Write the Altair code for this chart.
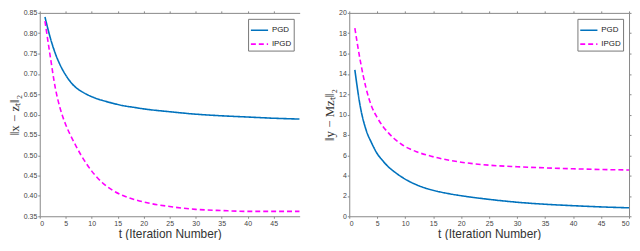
import altair as alt
import pandas as pd

# ---- data ----
series = ["PGD", "IPGD"]

t_left = [1, 2, 3, 4, 5, 6, 7, 8, 9, 10, 11, 12, 14, 16, 18, 20, 25, 30, 35, 40, 45, 50]
pgd_left = [0.840, 0.790, 0.750, 0.720, 0.697, 0.679, 0.666, 0.657, 0.650, 0.644, 0.639,
            0.635, 0.628, 0.622, 0.618, 0.614, 0.607, 0.601, 0.597, 0.594, 0.591, 0.589]
ipgd_left = [0.830, 0.745, 0.665, 0.612, 0.575, 0.547, 0.522, 0.499, 0.479, 0.461, 0.446,
             0.433, 0.414, 0.401, 0.392, 0.385, 0.374, 0.367, 0.364, 0.362, 0.362, 0.362]

t_right = [1, 2, 3, 4, 5, 6, 7, 8, 9, 10, 11, 12, 14, 16, 18, 20, 25, 30, 35, 40, 45, 50]
pgd_right = [14.4, 10.7, 8.5, 7.2, 6.15, 5.45, 4.85, 4.4, 4.0, 3.65, 3.35, 3.1, 2.7, 2.42,
             2.2, 2.02, 1.66, 1.38, 1.18, 1.04, 0.92, 0.83]
ipgd_right = [18.5, 15.2, 12.6, 10.8, 9.7, 8.85, 8.2, 7.65, 7.22, 6.85, 6.58, 6.35, 6.0,
              5.72, 5.5, 5.32, 5.02, 4.87, 4.76, 4.67, 4.6, 4.55]

left_xticks = [0, 5, 10, 15, 20, 25, 30, 35, 40, 45]
left_yticks = [0.35, 0.4, 0.45, 0.5, 0.55, 0.6, 0.65, 0.7, 0.75, 0.8, 0.85]
right_xticks = [0, 5, 10, 15, 20, 25, 30, 35, 40, 45, 50]
right_yticks = [0, 2, 4, 6, 8, 10, 12, 14, 16, 18, 20]

colors = ["#0072BD", "#FF00FF"]
dashes = [[1, 0], [5, 3]]

SANS = "Liberation Sans"
SERIF = "Liberation Serif"
AX = "#888888"


def frame(t, a, b):
    rows = []
    for ti, v in zip(t, a):
        rows.append({"t": ti, "v": v, "s": "PGD"})
    for ti, v in zip(t, b):
        rows.append({"t": ti, "v": v, "s": "IPGD"})
    return pd.DataFrame(rows)


def axis(orient, values, fmt, labels=True, title=None, tfont=SANS, tsize=12):
    kw = dict(orient=orient, values=values, labels=labels, ticks=True, tickSize=2,
              tickColor=AX, domainColor=AX, domainWidth=1, grid=False,
              labelFont=SANS, labelFontSize=7, labelColor="#444444", labelPadding=1)
    if fmt:
        kw["format"] = fmt
    if title:
        kw.update(title=title, titleFont=tfont, titleFontSize=tsize,
                  titleFontWeight="normal", titleColor="#333333", titlePadding=2)
    else:
        kw["title"] = None
    return alt.Axis(**kw)


def panel(df, xdom, ydom, xticks, yticks, yfmt, ytitle, width, height, box_right):
    xs = alt.Scale(domain=xdom, nice=False, zero=False)
    ys = alt.Scale(domain=ydom, nice=False, zero=False)
    leg = alt.Legend(orient="top-right", title=None, strokeColor="#777777",
                     fillColor="white", padding=2, offset=6, labelFont=SANS,
                     labelFontSize=8, labelColor="#222222", symbolType="stroke",
                     symbolSize=300, symbolStrokeWidth=1.6, rowPadding=0, labelOffset=3)
    main = alt.Chart(df).mark_line(strokeWidth=1.6, interpolate="monotone", clip=True).encode(
        x=alt.X("t:Q", scale=xs,
                axis=axis("bottom", xticks, "d", title="t (Iteration Number)")),
        y=alt.Y("v:Q", scale=ys,
                axis=axis("left", yticks, yfmt, title=ytitle, tfont=SERIF, tsize=13)),
        color=alt.Color("s:N", scale=alt.Scale(domain=series, range=colors),
                        sort=series, legend=leg),
        strokeDash=alt.StrokeDash("s:N", scale=alt.Scale(domain=series, range=dashes),
                                  sort=series, legend=leg),
    )
    frame_layer = alt.Chart(df).mark_line(opacity=0).encode(
        x=alt.X("t:Q", scale=xs, axis=axis("top", xticks, "d", labels=False)),
        y=alt.Y("v:Q", scale=ys,
                axis=axis("right", yticks, yfmt, labels=False) if box_right else None),
    )
    return alt.layer(main, frame_layer).resolve_axis(
        x="independent", y="independent").properties(width=width, height=height)


left = panel(frame(t_left, pgd_left, ipgd_left), [0, 50], [0.35, 0.85],
             left_xticks, left_yticks, "", "\u2016x \u2212 z\u209c\u2016\u2082",
             262, 205, False)
right = panel(frame(t_right, pgd_right, ipgd_right), [0, 50], [0, 20],
              right_xticks, right_yticks, "d", "\u2016y \u2212 Mz\u209c\u2016\u2082",
              282, 205, True)

chart = alt.hconcat(left, right, spacing=24).resolve_scale(
    color="independent", strokeDash="independent"
).resolve_legend(
    color="independent", strokeDash="independent"
).properties(
    padding={"left": 0, "top": 0, "right": 0, "bottom": 0}
).configure_view(stroke=None)

chart.save("out.html", embed_options={"renderer": "svg", "actions": False})
